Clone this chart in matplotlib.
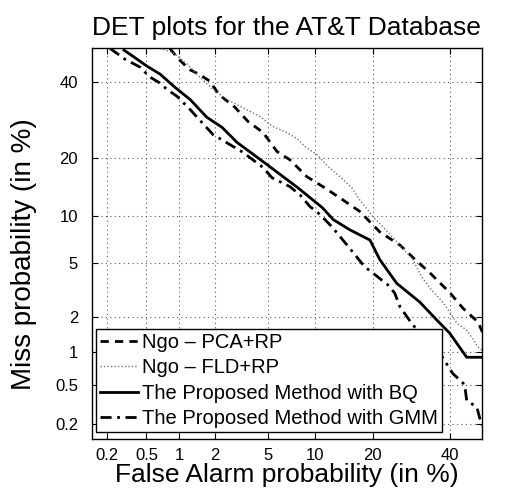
"""
DET plots for the AT&T Database (normal-deviate axes, values in percent).
"""

import math
from statistics import NormalDist

import matplotlib
matplotlib.use("Agg")
import matplotlib.pyplot as plt
import numpy as np

plt.rcParams["font.family"] = ["Liberation Sans", "DejaVu Sans"]

# values, (false alarm %, miss %)
pca_fa = [0.83, 0.96, 1.23, 1.49, 1.83, 2.17, 2.89, 3.61, 4.62, 5.75, 6.98, 8.9,
          11.3, 14.2, 17.3, 21.5, 26.3, 30.2, 34.2, 40.1, 43.9, 48.5, 49.9]
pca_miss = [50.0, 47.3, 43.6, 42.2, 40.1, 36.2, 32.6, 28.8, 26.0, 21.5, 19.7, 16.3,
            14.3, 12.3, 10.6, 8.0, 6.6, 5.3, 4.3, 3.06, 2.34, 1.81, 1.49]

fld_fa = [0.67, 0.88, 1.18, 1.52, 1.94, 2.5, 3.15, 4.4, 5.4, 6.68, 7.86, 8.67, 10.2,
          11.8, 13.7, 15.8, 17.3, 20.0, 22.2, 24.5, 29.6, 32.0, 34.8, 38.0, 40.0,
          42.1, 45.1, 46.9, 48.5, 49.9]
fld_miss = [50.0, 48.8, 45.2, 41.3, 37.7, 34.8, 32.9, 30.1, 27.5, 26.0, 24.3, 22.6,
            20.8, 18.3, 16.3, 14.3, 12.3, 9.9, 8.6, 7.4, 5.3, 4.0, 3.2, 2.6, 2.17,
            1.77, 1.55, 1.32, 1.11, 1.04]

bq_fa = [0.30, 0.37, 0.507, 0.674, 0.92, 1.25, 1.73, 2.29, 2.99, 4.92, 7.84, 11.0,
         12.6, 15.4, 19.4, 21.5, 25.5, 31.5, 36.2, 40.0, 45.1, 49.9]
bq_miss = [49.5, 47.6, 44.6, 42.2, 38.3, 34.8, 29.9, 27.3, 23.6, 18.7, 14.3, 11.1,
           9.5, 8.25, 7.1, 5.3, 3.6, 2.6, 1.88, 1.46, 0.90, 0.90]

gmm_fa = [0.216, 0.308, 0.435, 0.53, 0.66, 0.78, 0.96, 1.25, 1.94, 3.32, 4.62, 5.33,
          6.98, 8.08, 9.28, 10.6, 12.4, 15.4, 18.3, 21.1, 23.4, 25.0, 26.3, 29.6,
          37.1, 40.9, 44.5, 45.1, 48.2, 49.1, 49.9]
gmm_miss = [50.0, 46.7, 44.3, 41.5, 39.7, 37.7, 35.7, 32.0, 25.5, 21.3, 18.1, 16.1,
            14.5, 13.1, 11.3, 10.2, 8.6, 6.3, 4.72, 4.0, 3.5, 3.05, 2.39, 1.71,
            0.98, 0.64, 0.50, 0.35, 0.30, 0.23, 0.195]

tick_vals = [0.2, 0.5, 1, 2, 5, 10, 20, 40]
tick_labels = ["0.2", "0.5", "1", "2", "5", "10", "20", "40"]

_nd = NormalDist()
_ppf = np.vectorize(_nd.inv_cdf, otypes=[float])
_erf = np.vectorize(math.erf, otypes=[float])


def to_dev(p):
    p = np.clip(np.asarray(p, dtype=float) / 100.0, 1e-9, 1 - 1e-9)
    return _ppf(p)


def from_dev(d):
    d = np.asarray(d, dtype=float)
    return 100.0 * 0.5 * (1.0 + _erf(d / math.sqrt(2.0)))


fig = plt.figure(figsize=(5.05, 4.88), dpi=100)
ax = fig.add_axes([0.182, 0.100, 0.772, 0.802])
ax.set_xscale("function", functions=(to_dev, from_dev))
ax.set_yscale("function", functions=(to_dev, from_dev))

ax.plot(pca_fa, pca_miss, color="black", lw=2.0, dashes=(3, 2.2), label="Ngo \u2013 PCA+RP")
ax.plot(fld_fa, fld_miss, color="0.45", lw=1.0, dashes=(1, 1.5), label="Ngo \u2013 FLD+RP")
ax.plot(bq_fa, bq_miss, color="black", lw=2.0, label="The Proposed Method with BQ")
ax.plot(gmm_fa, gmm_miss, color="black", lw=2.0, dashes=(4, 2, 1, 2),
        label="The Proposed Method with GMM")

ax.set_xlim(0.138, 49.7)
ax.set_ylim(0.138, 50.2)
ax.set_xticks(tick_vals)
ax.set_xticklabels(tick_labels)
ax.set_yticks(tick_vals)
ax.set_yticklabels(tick_labels)
ax.minorticks_off()
ax.tick_params(direction="in", top=True, right=True, length=4, width=0.8,
               labelsize=12)
ax.tick_params(axis="x", pad=6)
ax.tick_params(axis="y", pad=10)
ax.grid(True, color="0.35", lw=0.8, dashes=(1, 3))
for s in ax.spines.values():
    s.set_linewidth(1.0)

ax.set_title("DET plots for the AT&T Database", fontsize=19, pad=9)
ax.set_xlabel("False Alarm probability (in %)", fontsize=19, labelpad=0)
ax.set_ylabel("Miss probability (in %)", fontsize=20)
ax.yaxis.set_label_coords(-0.141, 0.473)

leg = ax.legend(loc="lower left", bbox_to_anchor=(0.010, 0.018), borderaxespad=0,
                fontsize=14.5, handlelength=1.9, handletextpad=0.2,
                borderpad=0.2, labelspacing=0.32, fancybox=False, framealpha=1)
leg.get_frame().set_edgecolor("black")
leg.get_frame().set_linewidth(1.0)

fig.savefig("out.png", dpi=100)
